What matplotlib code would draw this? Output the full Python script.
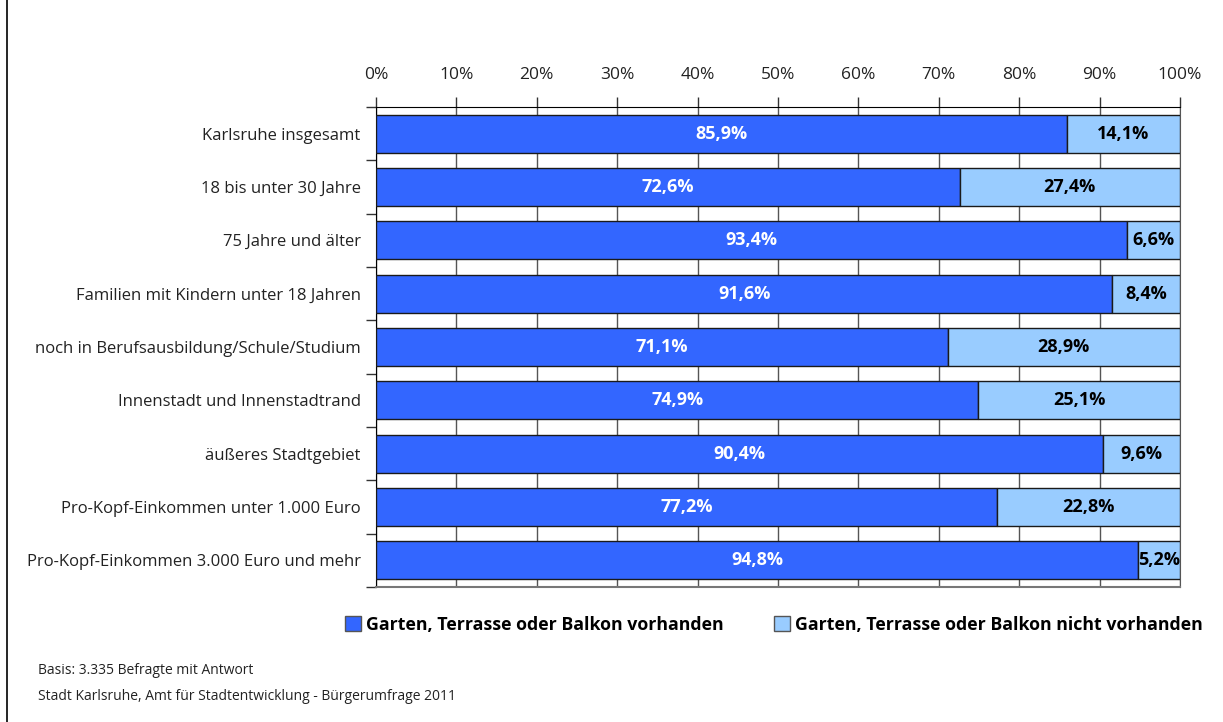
import matplotlib.pyplot as plt
import matplotlib.patches as patches
from matplotlib.lines import Line2D
import numpy as np

# ==== DATA ====
categories = [
    "Karlsruhe insgesamt",
    "18 bis unter 30 Jahre",
    "75 Jahre und älter",
    "Familien mit Kindern unter 18 Jahren",
    "noch in Berufsausbildung/Schule/Studium",
    "Innenstadt und Innenstadtrand",
    "äußeres Stadtgebiet",
    "Pro-Kopf-Einkommen unter 1.000 Euro",
    "Pro-Kopf-Einkommen 3.000 Euro und mehr",
]
vorhanden = [85.9, 72.6, 93.4, 91.6, 71.1, 74.9, 90.4, 77.2, 94.8]
nicht_vorhanden = [14.1, 27.4, 6.6, 8.4, 28.9, 25.1, 9.6, 22.8, 5.2]
series_names = ["Garten, Terrasse oder Balkon vorhanden",
                "Garten, Terrasse oder Balkon nicht vorhanden"]
xticks = list(range(0, 101, 10))
footer = ["Basis: 3.335 Befragte mit Antwort",
          "Stadt Karlsruhe, Amt für Stadtentwicklung - Bürgerumfrage 2011"]

dark = '#3366FF'
light = '#99CCFF'
plt.rcParams['font.family'] = ['Open Sans', 'DejaVu Sans']

fig = plt.figure(figsize=(12.23, 7.22), dpi=100)
ax = fig.add_axes([376 / 1223, 1 - 587 / 722, 804 / 1223, 480 / 722])

y = np.arange(len(categories))
ax.barh(y, vorhanden, height=0.71, color=dark, edgecolor='#1a1a1a', linewidth=1, zorder=3)
ax.barh(y, nicht_vorhanden, left=vorhanden, height=0.71, color=light,
        edgecolor='#1a1a1a', linewidth=1, zorder=3)

for i in range(len(categories)):
    ax.text(vorhanden[i] / 2, i, f"{vorhanden[i]:.1f}%".replace('.', ','),
            ha='center', va='center', color='white', fontsize=13, fontweight='bold', zorder=4)
    ax.text(vorhanden[i] + nicht_vorhanden[i] / 2, i, f"{nicht_vorhanden[i]:.1f}%".replace('.', ','),
            ha='center', va='center', color='black', fontsize=13, fontweight='bold', zorder=4)

ax.set_xlim(0, 100)
ax.set_ylim(len(categories) - 0.5, -0.5)
ax.xaxis.tick_top()
ax.set_xticks(xticks)
ax.set_xticklabels([f"{t}%" for t in xticks], fontsize=12.5, color='#222222')
ax.tick_params(axis='x', direction='out', length=7, width=1, pad=10, color='#333333')
ax.grid(axis='x', color='#555555', linewidth=1, zorder=0)

ax.set_yticks(y)
ax.set_yticklabels(categories, fontsize=12, color='#222222')
ax.set_yticks(np.arange(-0.5, len(categories), 1), minor=True)
ax.tick_params(axis='y', which='major', length=0, pad=11)
ax.tick_params(axis='y', which='minor', direction='out', length=7, width=1, color='#333333')

ax.spines['top'].set_color('black')
ax.spines['left'].set_color('black')
ax.spines['right'].set_color('#555555')
ax.spines['bottom'].set_color('#777777')
ax.spines['bottom'].set_linewidth(1.5)

# legend
handles = [patches.Patch(facecolor=dark, edgecolor='#555555'),
           patches.Patch(facecolor=light, edgecolor='#555555')]
fig.legend(handles, series_names, loc='center', bbox_to_anchor=(774 / 1223, 1 - 625 / 722),
           ncol=2, frameon=False, prop={'weight': 'bold', 'size': 12.8},
           handlelength=0.9, handleheight=0.9, handletextpad=0.3, columnspacing=2.8)

fig.text(38 / 1223, 1 - 670 / 722, footer[0], fontsize=10, va='center', color='#222222')
fig.text(38 / 1223, 1 - 696 / 722, footer[1], fontsize=10, va='center', color='#222222')

# left border of the frame
fig.add_artist(Line2D([7 / 1223, 7 / 1223], [0, 1], color='black', linewidth=1.2))

fig.savefig('out.png', dpi=100)
